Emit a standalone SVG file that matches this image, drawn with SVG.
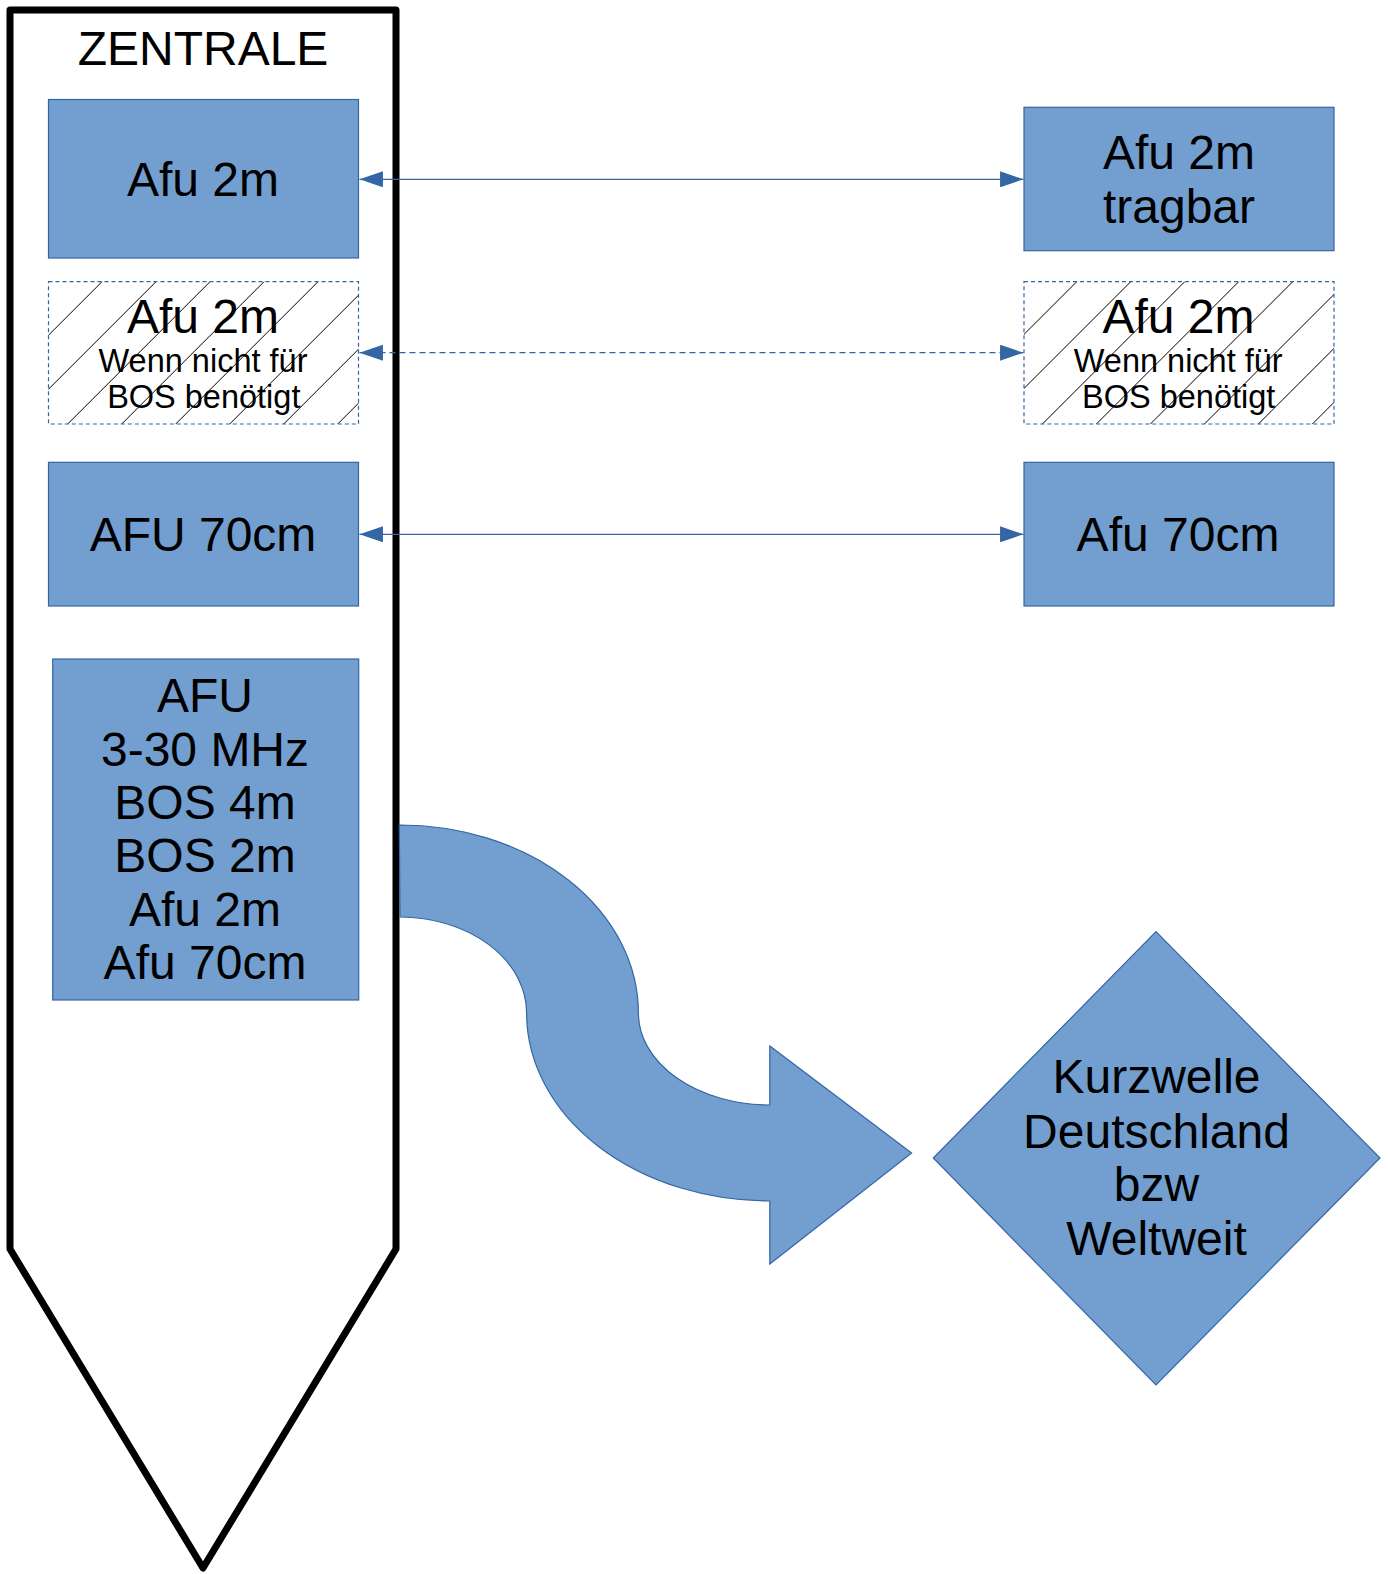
<svg xmlns="http://www.w3.org/2000/svg" width="1388" height="1574" viewBox="0 0 1388 1574">
  <style>
    .box { fill: #729fcf; stroke: #3465a4; stroke-width: 1.2; }
    .hbox { stroke: #3465a4; stroke-width: 1.2; stroke-dasharray: 4 3; }
    .t { font-family: "Liberation Sans", Arial, sans-serif; font-size: 48px; fill: #000; text-anchor: middle; }
    .s { font-size: 32.5px; }
    .con { stroke: #3465a4; stroke-width: 1.2; fill: none; }
    .dash { stroke-dasharray: 6 4; }
  </style>
  <defs>
    <pattern id="hatchL" patternUnits="userSpaceOnUse" x="5.7" y="0" width="54" height="54">
      <path d="M0,54 L54,0 M-5,5 L5,-5 M49,59 L59,49" stroke="#000" stroke-width="1"/>
    </pattern>
    <pattern id="hatchR" patternUnits="userSpaceOnUse" x="8.4" y="0" width="54" height="54">
      <path d="M0,54 L54,0 M-5,5 L5,-5 M49,59 L59,49" stroke="#000" stroke-width="1"/>
    </pattern>
    <marker id="ah" markerUnits="userSpaceOnUse" markerWidth="24" markerHeight="16" refX="22" refY="7.5" orient="auto-start-reverse" viewBox="0 0 22 15">
      <path d="M0,0 L22,7.5 L0,15 Z" fill="#3465a4"/>
    </marker>
  </defs>

  <rect width="1388" height="1574" fill="#fff"/>

  <g id="zentrale">
    <path d="M10,10 L396,10 L396,1249 L203,1568 L10,1249 Z" fill="#fff" stroke="#000" stroke-width="7" stroke-linejoin="round"/>
    <text class="t" x="203" y="65">ZENTRALE</text>
  </g>

  <g id="connectors">
    <line class="con" x1="359.5" y1="179.3" x2="1023.5" y2="179.3" marker-start="url(#ah)" marker-end="url(#ah)"/>
    <line class="con dash" x1="359.5" y1="352.7" x2="1023.5" y2="352.7" marker-start="url(#ah)" marker-end="url(#ah)"/>
    <line class="con" x1="359.5" y1="534.3" x2="1023.5" y2="534.3" marker-start="url(#ah)" marker-end="url(#ah)"/>
  </g>

  <g id="afu2m-left">
    <rect class="box" x="48.5" y="99.5" width="310" height="158.5"/>
    <text class="t" x="203" y="196">Afu 2m</text>
  </g>

  <g id="afu2m-opt-left">
    <rect class="hbox" x="48.5" y="281.7" width="310" height="142.3" fill="url(#hatchL)"/>
    <text class="t" x="203" y="333.3">Afu 2m</text>
    <text class="t s" x="203" y="371.7">Wenn nicht für</text>
    <text class="t s" x="203.8" y="408.3">BOS benötigt</text>
  </g>

  <g id="afu70-left">
    <rect class="box" x="48.5" y="462.3" width="310" height="143.7"/>
    <text class="t" x="203" y="550.7">AFU 70cm</text>
  </g>

  <g id="kw-box">
    <rect class="box" x="52.7" y="659" width="306" height="341"/>
    <text class="t" x="205" y="712.3">AFU</text>
    <text class="t" x="205" y="765.6">3-30 MHz</text>
    <text class="t" x="205" y="818.9">BOS 4m</text>
    <text class="t" x="205" y="872.2">BOS 2m</text>
    <text class="t" x="205" y="925.5">Afu 2m</text>
    <text class="t" x="205" y="978.8">Afu 70cm</text>
  </g>

  <g id="afu2m-tragbar">
    <rect class="box" x="1024" y="107.3" width="310" height="143.4"/>
    <text class="t" x="1179" y="169">Afu 2m</text>
    <text class="t" x="1179" y="223.3">tragbar</text>
  </g>

  <g id="afu2m-opt-right">
    <rect class="hbox" x="1024" y="281.7" width="310" height="142.3" fill="url(#hatchR)"/>
    <text class="t" x="1178.5" y="333.3">Afu 2m</text>
    <text class="t s" x="1178.2" y="371.7">Wenn nicht für</text>
    <text class="t s" x="1178.7" y="407.7">BOS benötigt</text>
  </g>

  <g id="afu70-right">
    <rect class="box" x="1024" y="462.3" width="310" height="143.7"/>
    <text class="t" x="1178" y="550.7">Afu 70cm</text>
  </g>

  <g id="s-arrow">
    <path d="M399.3,825 A238.7,188 0 0 1 638.4,1013 A131.4,92 0 0 0 769.8,1105 L769.8,1046 L911.6,1153 L769.8,1264 L769.8,1201 A243.2,188 0 0 1 526.6,1013 A126.6,96 0 0 0 400,917 Z" fill="#729fcf" stroke="#3465a4" stroke-width="1.2"/>
  </g>

  <g id="kurzwelle">
    <path d="M1156,931.7 L1380,1158 L1156,1385 L933.3,1158 Z" fill="#729fcf" stroke="#3465a4" stroke-width="1.2"/>
    <text class="t" x="1156.5" y="1093.3">Kurzwelle</text>
    <text class="t" x="1156.5" y="1147.7">Deutschland</text>
    <text class="t" x="1156.5" y="1201">bzw</text>
    <text class="t" x="1156.5" y="1255">Weltweit</text>
  </g>
</svg>
